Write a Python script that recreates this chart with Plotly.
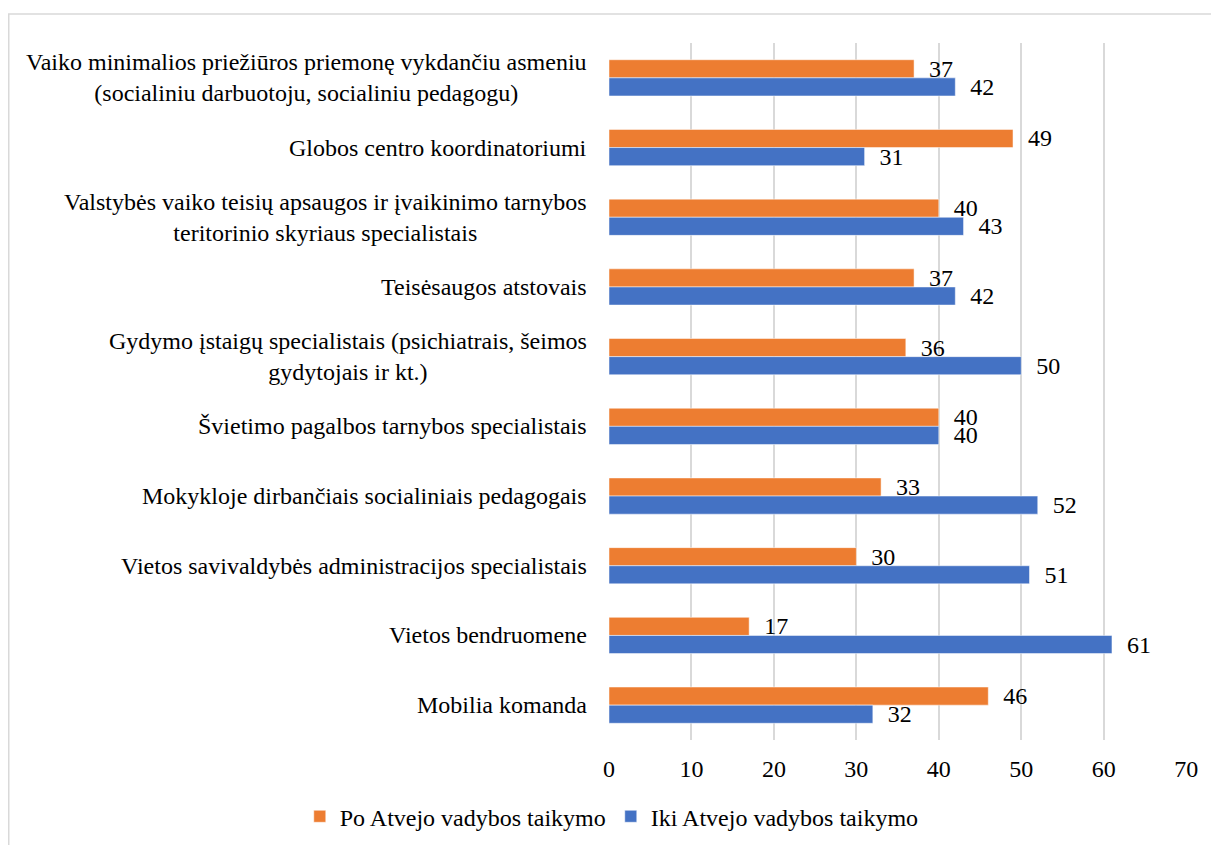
import plotly.graph_objects as go

# categories, top to bottom as in the chart
categories = [
    "Vaiko minimalios priežiūros priemonę vykdančiu asmeniu<br>(socialiniu darbuotoju, socialiniu pedagogu)",
    "Globos centro koordinatoriumi",
    "Valstybės vaiko teisių apsaugos ir įvaikinimo tarnybos<br>teritorinio skyriaus specialistais",
    "Teisėsaugos atstovais",
    "Gydymo įstaigų specialistais (psichiatrais, šeimos<br>gydytojais ir kt.)",
    "Švietimo pagalbos tarnybos specialistais",
    "Mokykloje dirbančiais socialiniais pedagogais",
    "Vietos savivaldybės administracijos specialistais",
    "Vietos bendruomene",
    "Mobilia komanda",
]
po_values = [37, 49, 40, 37, 36, 40, 33, 30, 17, 46]
iki_values = [42, 31, 43, 42, 50, 40, 52, 51, 61, 32]
x_ticks = [0, 10, 20, 30, 40, 50, 60, 70]

FONT = "Liberation Serif"
SIZE = 24

fig = go.Figure()
fig.add_trace(go.Bar(y=categories, x=po_values, orientation="h", name="Po Atvejo vadybos taikymo",
                     marker_color="#ED7D31", text=po_values, texttemplate="  %{x}",
                     textposition="outside", cliponaxis=False, constraintext="none",
                     textfont=dict(size=SIZE, color="black", family=FONT)))
fig.add_trace(go.Bar(y=categories, x=iki_values, orientation="h", name="Iki Atvejo vadybos taikymo",
                     marker_color="#4472C4", text=iki_values, texttemplate="  %{x}",
                     textposition="outside", cliponaxis=False, constraintext="none",
                     textfont=dict(size=SIZE, color="black", family=FONT)))

# category labels, centred multi-line text like the original
for c in categories:
    fig.add_annotation(x=0, xref="paper", xanchor="right", xshift=-20, y=c, yref="y",
                       text=c, showarrow=False, align="center",
                       font=dict(size=SIZE, color="black", family=FONT))

# light frame round the chart
fig.add_shape(type="rect", xref="paper", yref="paper", x0=-1.0385, x1=1.2, y0=-0.3, y1=1.0416,
              line=dict(color="#d9d9d9", width=1.5), layer="below")

fig.update_layout(
    width=1211, height=837, template="plotly_white",
    plot_bgcolor="white", paper_bgcolor="white",
    barmode="group", bargap=0.48, bargroupgap=0,
    margin=dict(l=601, r=32, t=35, b=105, autoexpand=False),
    font=dict(family=FONT, size=SIZE, color="black"),
    legend=dict(orientation="h", x=-0.535, xanchor="left", y=-0.11, yanchor="middle",
                itemwidth=30, font=dict(size=SIZE, color="black", family=FONT)),
    xaxis=dict(range=[0, 70.1], tickvals=x_ticks, showgrid=True, gridcolor="#d9d9d9", gridwidth=1.5,
               zeroline=False, showline=False, ticks="", ticklabelstandoff=12,
               tickfont=dict(size=SIZE, color="black", family=FONT)),
    yaxis=dict(autorange="reversed", showticklabels=False, showgrid=False, zeroline=False,
               showline=False, ticks=""),
)

fig.write_html("out.html")
